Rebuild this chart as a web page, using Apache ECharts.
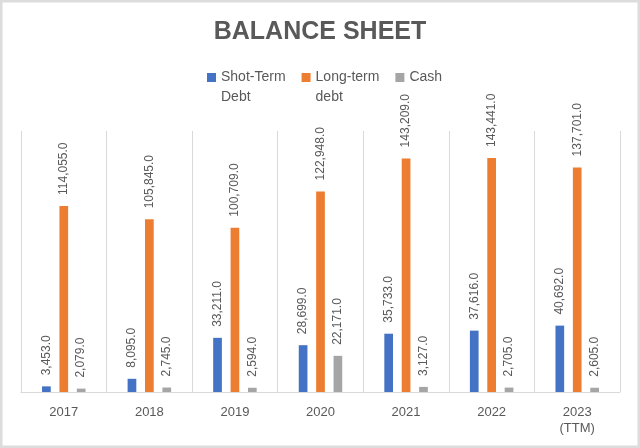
<!DOCTYPE html>
<html>
<head>
<meta charset="utf-8">
<script src="https://cdn.jsdelivr.net/npm/echarts@6/dist/echarts.min.js"></script>
<style>
html,body{margin:0;padding:0;background:#fff;}
#chart{width:640px;height:448px;}
</style>
</head>
<body>
<div id="chart"></div>
<script>
const categories = ['2017', '2018', '2019', '2020', '2021', '2022', '2023\n(TTM)'];
const shortTermDebt = [3453, 8095, 33211, 28699, 35733, 37616, 40692];
const longTermDebt = [114055, 105845, 100709, 122948, 143209, 143441, 137701];
const cash = [2079, 2745, 2594, 22171, 3127, 2705, 2605];
const seriesNames = ['Shot-Term Debt', 'Long-term debt', 'Cash'];
const colors = ['#4472C4', '#ED7D31', '#A5A5A5'];

const chart = echarts.init(document.getElementById('chart'));
const fmt = v => v.toLocaleString('en-US', {minimumFractionDigits: 1, maximumFractionDigits: 1});
const labelCfg = {
  show: true,
  position: 'top',
  rotate: 90,
  align: 'left',
  verticalAlign: 'middle',
  distance: 11,
  color: '#595959',
  fontSize: 12,
  fontFamily: 'Liberation Sans',
  formatter: p => fmt(p.value)
};
function mkSeries(name, data, color) {
  return {
    name: name,
    type: 'bar',
    data: data,
    barWidth: 8.7,
    barGap: '100%',
    itemStyle: {color: color},
    label: labelCfg,
    emphasis: {disabled: true}
  };
}
chart.setOption({
  animation: false,
  textStyle: {fontFamily: 'Liberation Sans'},
  color: colors,
  title: {
    text: 'BALANCE SHEET',
    left: 'center',
    top: 20,
    padding: 0,
    textStyle: {fontSize: 25, fontWeight: 'bold', color: '#595959', fontFamily: 'Liberation Sans'}
  },
  legend: {
    left: 207,
    top: 47.5,
    padding: 0,
    icon: 'rect',
    itemWidth: 9,
    itemHeight: 9,
    itemGap: 16,
    textStyle: {fontSize: 14, lineHeight: 20, color: '#595959'},
    formatter: name => name.indexOf(' ') >= 0 ? '\n' + name.replace(' ', '\n') : name,
    data: seriesNames
  },
  grid: {left: 21, right: 20, top: 131, bottom: 56},
  xAxis: {
    type: 'category',
    data: categories,
    axisLine: {lineStyle: {color: '#d9d9d9', width: 1}},
    axisTick: {show: false},
    splitLine: {show: true, lineStyle: {color: '#d9d9d9', width: 1}},
    axisLabel: {color: '#595959', fontSize: 13, margin: 12, lineHeight: 16}
  },
  yAxis: {
    type: 'value',
    min: 0,
    max: 160000,
    show: false,
    splitLine: {show: false}
  },
  graphic: [{
    type: 'rect',
    silent: true,
    shape: {x: 1.25, y: 1.25, width: 637.5, height: 445.5},
    style: {fill: 'none', stroke: '#dcdcdc', lineWidth: 2.5}
  }],
  series: [
    mkSeries(seriesNames[0], shortTermDebt, colors[0]),
    mkSeries(seriesNames[1], longTermDebt, colors[1]),
    mkSeries(seriesNames[2], cash, colors[2])
  ]
});
</script>
</body>
</html>
